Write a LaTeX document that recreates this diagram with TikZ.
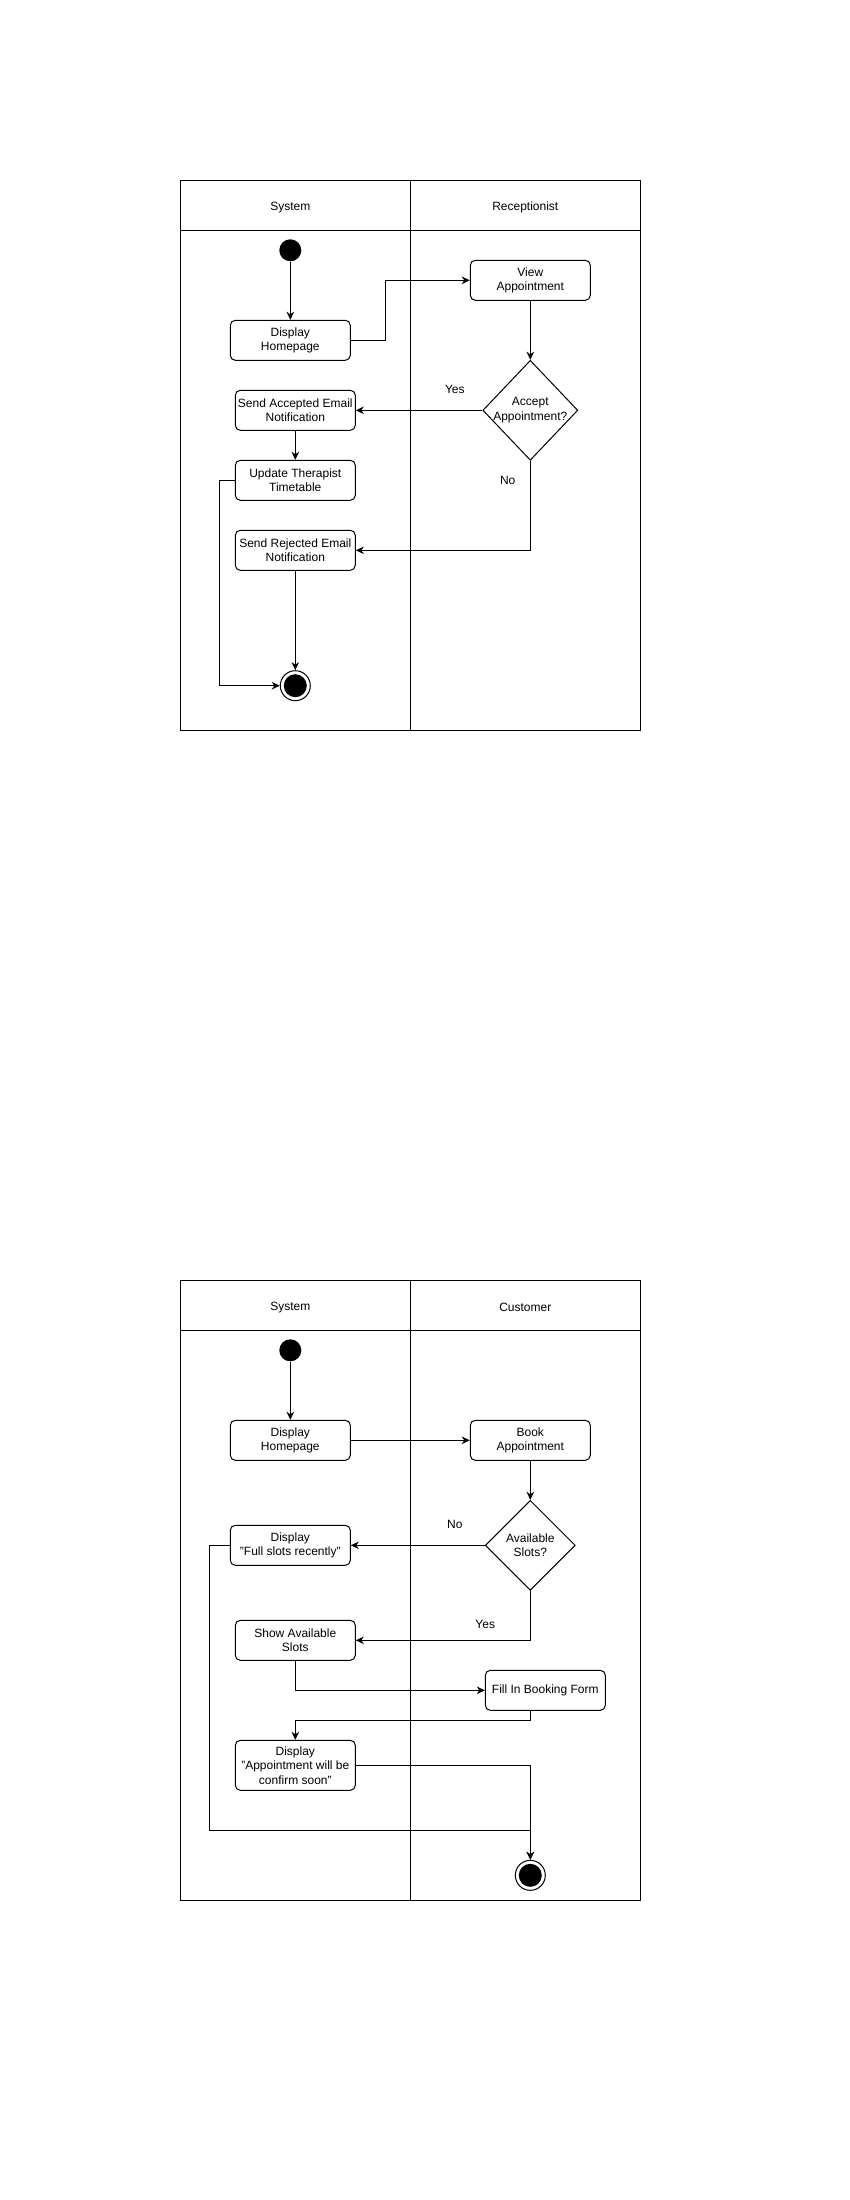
\documentclass[tikz,border=0pt]{standalone}
\usepackage{fontspec}
\setmainfont{Liberation Sans}
\usetikzlibrary{arrows.meta,shapes.geometric}

\tikzset{
  base/.style={font=\fontsize{12}{14.6}\selectfont, line width=1pt},
  action/.style={base, draw, rounded corners=5pt, align=center, inner sep=0pt,
                 minimum width=120pt, minimum height=40pt},
  decision/.style={draw, line width=1pt, shape=diamond, inner sep=0pt},
  startnode/.style={circle, fill=black, inner sep=0pt, minimum size=22pt},
  endnode/.style={circle, draw, line width=1pt, inner sep=0pt, minimum size=30pt},
  lbl/.style={font=\fontsize{12}{14.6}\selectfont, inner sep=0pt},
  arr/.style={line width=1pt, -{Stealth[length=8pt,width=7.5pt,inset=2.5pt]}},
  lane/.style={line width=1pt},
}

\begin{document}
\begin{tikzpicture}[x=1pt,y=-1pt]
\useasboundingbox (0,0) rectangle (850,2200);

% ---------------- Receptionist workflow ----------------
\draw[lane] (180.3,180.3) rectangle (640.3,730);
\draw[lane] (180.3,230.3) -- (640.3,230.3);
\draw[lane] (410.3,180.3) -- (410.3,730);
\node[lbl] (hsys1) at (290.3,207.5) {System};
\node[lbl] (hrec)  at (525.3,207.5) {Receptionist};

\node[startnode] (s1) at (290.3,250.3) {};
\node[action] (dh1) at (290.3,340.3) {Display\\Homepage};
\node[action] (va)  at (530.3,280.3) {View\\Appointment};
\node[decision, minimum width=95pt, minimum height=100pt] (d1) at (530.3,410.3) {};
\node[lbl, align=center] (d1t) at (d1.center) {Accept\\Appointment?};
\node[action] (sa)  at (295.3,410.3) {Send Accepted Email\\Notification};
\node[action] (ut)  at (295.3,480.3) {Update Therapist\\Timetable};
\node[action] (sr)  at (295.3,550.3) {Send Rejected Email\\Notification};
\node[endnode] (e1) at (295.3,685.7) {};
\fill (e1.center) circle (11.5pt);

\draw[arr] (s1) -- (dh1);
\draw[arr] (dh1.east) -- ++(35,0) |- (va.west);
\draw[arr] (va) -- (d1);
\draw[arr] (d1.west) -- node[lbl, pos=0.217, yshift=21pt] {Yes} (sa.east);
\draw[arr] (sa) -- (ut);
\draw[arr] (ut.west) -- ++(-15,0) |- (e1.west);
\draw[arr] (d1.south) |- node[lbl, pos=0.107, xshift=-22.6pt] {No} (sr.east);
\draw[arr] (sr) -- (e1);

% ---------------- Customer workflow ----------------
\draw[lane] (180.3,1280.3) rectangle (640.3,1900.3);
\draw[lane] (180.3,1330.3) -- (640.3,1330.3);
\draw[lane] (410.3,1280.3) -- (410.3,1900.3);
\node[lbl] (hsys2) at (290.3,1307.5) {System};
\node[lbl] (hcus)  at (525.3,1307.5) {Customer};

\node[startnode] (s2) at (290.3,1350.3) {};
\node[action] (dh2) at (290.3,1440.3) {Display\\Homepage};
\node[action] (ba)  at (530.3,1440.3) {Book\\Appointment};
\node[decision, minimum width=90pt, minimum height=90pt] (d2) at (530.3,1545.3) {};
\node[lbl, align=center] (d2t) at (d2.center) {Available\\Slots?};
\node[action] (fs)  at (290.3,1545.3) {Display\\"Full slots recently"};
\node[action] (sv)  at (295.3,1640.3) {Show Available\\Slots};
\node[action] (ff)  at (545.3,1690.3) {Fill In Booking Form};
\node[action, minimum height=50pt] (da) at (295.3,1765.3) {Display\\"Appointment will be\\confirm soon"};
\node[endnode] (e2) at (530.3,1875.3) {};
\fill (e2.center) circle (11.5pt);
\coordinate (m2) at (530.3,1830.3);

\draw[arr] (s2) -- (dh2);
\draw[arr] (dh2) -- (ba);
\draw[arr] (ba) -- (d2);
\draw[arr] (d2.west) -- node[lbl, pos=0.224, yshift=21pt] {No} (fs.east);
\draw[arr] (d2.south) |- node[lbl, pos=0.629, yshift=16pt] {Yes} (sv.east);
\draw[arr] (sv.south) |- (ff.west);
\draw[arr] (ff.south -| d2.south) -- ++(0,10) -| (da.north);
\draw[arr] (fs.west) -- ++(-20,0) |- (m2) -- (e2.north);
\draw[arr] (da.east) -| (e2.north);
\end{tikzpicture}
\end{document}
